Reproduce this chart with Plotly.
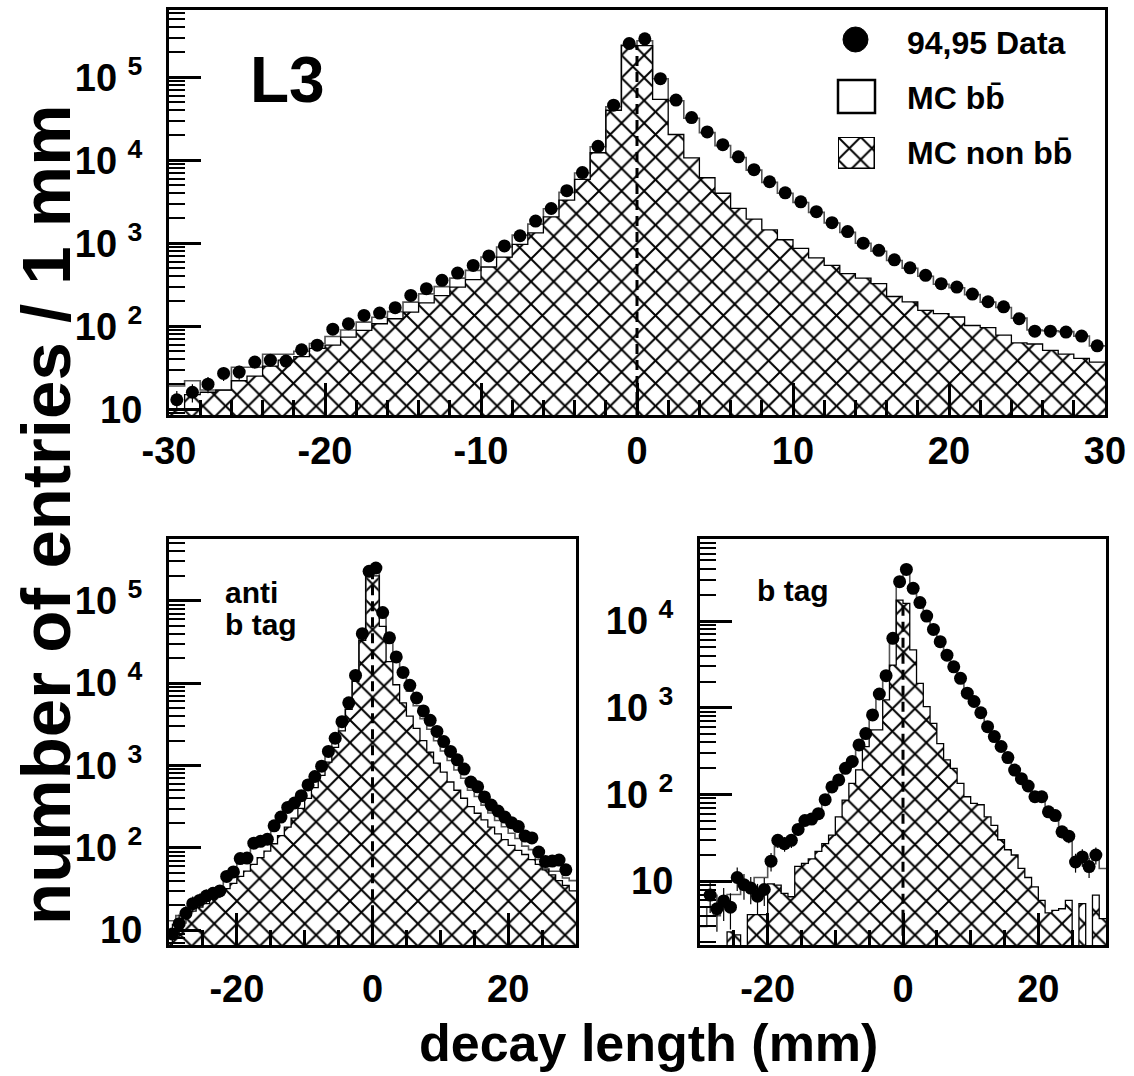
import math
import numpy as np
import plotly.graph_objects as go

W, H = 1134, 1076

# ---------------- data (1 mm bins from -30 to 30) ----------------
bin_edges = list(range(-30, 31))
bin_centers = [e + 0.5 for e in range(-30, 30)]

# top panel: all events
all_data = [13, 16, 20, 27, 28, 37, 39, 38, 52, 59, 92, 107, 135, 144, 167, 235, 283, 357, 437, 540,
            703, 927, 1230, 1850, 2620, 4290, 7100, 14700, 46000, 255000,
            290000, 96000, 53000, 32600, 21900, 15400, 11000, 7700, 5500, 4050, 3150, 2400, 1770, 1380,
            1000, 820, 630, 505, 410, 325, 296, 244, 197, 171, 123, 87, 87, 85, 76, 58]
all_mc_total = [19, 22, 17, 17, 32, 32, 46, 46, 50, 62, 75, 90, 112, 128, 150, 195, 245, 300, 380, 470,
                680, 900, 1250, 1700, 2600, 4100, 7000, 14500, 44000, 245000,
                275000, 96000, 52000, 32000, 21500, 15000, 10800, 7600, 5400, 4000, 3100, 2350, 1750, 1350,
                1000, 800, 620, 500, 400, 320, 290, 240, 195, 168, 125, 90, 88, 86, 76, 58]
all_mc_nonbb = [10, 15, 16, 17, 22, 25, 33, 39, 43, 54, 59, 74, 89, 107, 123, 148, 191, 234, 295, 364,
                517, 680, 970, 1330, 2080, 3300, 5870, 12300, 40000, 240000,
                240000, 54000, 20400, 10700, 6150, 4000, 2630, 1950, 1450, 1100, 865, 665, 540, 430,
                380, 325, 228, 196, 155, 142, 129, 102, 96, 78, 63, 61, 51, 46, 41, 37]

# bottom left: anti b tag
anti_data = [9, 12, 16, 21, 23, 26, 28, 30, 45, 51, 74, 75, 114, 120, 127, 185, 236, 309, 350, 430,
             580, 735, 980, 1480, 2140, 3400, 5770, 12400, 39800, 228000,
             250000, 72000, 35500, 20800, 13500, 9400, 6600, 4600, 3530, 2590, 1950, 1480, 1170, 905,
             630, 550, 415, 330, 280, 236, 202, 181, 139, 132, 89, 68, 69, 71, 54, None]
anti_mc_total = [13, 15, 17, 21, 24, 27, 29, 32, 42, 50, 68, 78, 105, 118, 130, 175, 225, 290, 345, 420,
                 560, 720, 960, 1450, 2100, 3300, 5600, 12000, 38000, 225000,
                 240000, 62000, 33000, 19500, 12000, 8000, 5300, 3700, 2750, 2000, 1500, 1150, 880, 700,
                 500, 420, 330, 265, 215, 180, 150, 130, 105, 95, 72, 56, 52, 52, 43, 40]
anti_mc_nonbb = [10, 13, 15, 17, 19, 21, 24, 27, 32, 37, 45, 52, 63, 76, 91, 112, 141, 178, 229, 302,
                 398, 537, 759, 1100, 1660, 2630, 4790, 10500, 33100, 214000,
                 200000, 49000, 18200, 9550, 5750, 3980, 2820, 2000, 1450, 1070, 830, 630, 500, 400,
                 316, 263, 219, 178, 148, 126, 107, 93, 83, 72, 63, 54, 47, 40, 35, 30]

# bottom right: b tag
btag_data = [None, 6.9, 4.8, 5.9, 5.0, 11, 9.1, 8.3, 6.7, 8.0, 17, 29.5, 27, 29.5, 39.5, 50, 52, 60, 87, 122,
             147, 200, 240, 372, 503, 825, 1440, 2340, 6310, 28400,
             39400, 23800, 16300, 11400, 8000, 5770, 4040, 2960, 2180, 1470, 1180, 875, 605, 465,
             357, 266, 191, 152, 125, 94, 94, 63, 57, 37, 33, 16.6, 19, 14.7, 20, None]
btag_mc_total = [3, 5, 4, 6, 7, 7, 9, 9, 11, 11, 18, 25, 28, 30, 38, 46, 52, 62, 85, 118,
                 145, 195, 250, 360, 520, 800, 1400, 2400, 6500, 27000,
                 38000, 24000, 16000, 11000, 7800, 5600, 4000, 2900, 2100, 1450, 1150, 860, 600, 460,
                 350, 260, 190, 150, 120, 92, 90, 64, 55, 40, 33, 18, 18, 16, 20, 14]
btag_mc_nonbb = [0, 0, 0, 0, 2.6, 2.4, 0, 4.1, 4.1, 4.1, 9.3, 9, 7.2, 6.6, 14.8, 16, 18, 22, 27, 34,
                 55, 86, 134, 192, 355, 555, 555, 1230, 3100, 17400,
                 16000, 4650, 1910, 1030, 660, 385, 250, 200, 134, 94, 79, 76, 55, 44,
                 30, 23, 20, 14, 11, 8.6, 6, 4.3, 4.6, 4.8, 6, 0, 5.5, 0, 6.9, 3.7]

y_tick_values = [10, 100, 1000, 10000, 100000]
y_tick_labels = ["10", "10 <sup>2</sup>", "10 <sup>3</sup>", "10 <sup>4</sup>", "10 <sup>5</sup>"]

legend_labels = ["94,95 Data", "MC bb\u0304", "MC non bb\u0304"]

# ---------------- layout helpers ----------------
FONT = "Liberation Sans, Arial, Helvetica, sans-serif"


def fx(px):
    return px / W


def fy(py):
    return 1 - py / H


panels = [
    dict(name="", xdom=(169, 1105), ydom=(10, 415), yrange=(0.93, 5.81),
         xticks=list(range(-30, 31, 10)), xminor=2, xstand=0,
         data=all_data, total=all_mc_total, nonbb=all_mc_nonbb),
    dict(name="2", xdom=(169, 576), ydom=(539, 945), yrange=(0.82, 5.75),
         xticks=[-20, 0, 20], xminor=5, xstand=8,
         data=anti_data, total=anti_mc_total, nonbb=anti_mc_nonbb),
    dict(name="3", xdom=(700, 1106), ydom=(539, 945), yrange=(0.263, 4.946),
         xticks=[-20, 0, 20], xminor=5, xstand=8,
         data=btag_data, total=btag_mc_total, nonbb=btag_mc_nonbb),
]

minor_log = [m * 10 ** e for e in range(0, 7) for m in range(2, 10)]

fig = go.Figure()
layout = dict(width=W, height=H, margin=dict(l=0, r=0, t=0, b=0, autoexpand=False),
              paper_bgcolor="white", plot_bgcolor="white",
              showlegend=False, bargap=0, barmode="overlay")

hatch = dict(shape="x", fgcolor="black", bgcolor="white", size=16, solidity=0.23, fgopacity=1)

for p in panels:
    xa = "x" + p["name"]
    ya = "y" + p["name"]
    floor = 10 ** (p["yrange"][0] - 1)

    # hatched non-bb histogram
    nb = [v if (v is not None and v > 0) else None for v in p["nonbb"]]
    fig.add_trace(go.Bar(x=bin_centers, y=nb, width=1.0, xaxis=xa, yaxis=ya,
                         marker=dict(color="white", line=dict(width=0), pattern=hatch),
                         hoverinfo="skip"))
    # total MC outline (grey)
    tot = [v if (v is not None and v > 0) else floor for v in p["total"]]
    fig.add_trace(go.Scatter(x=bin_edges, y=tot + [tot[-1]], mode="lines", line_shape="hv",
                             line=dict(color="#555555", width=1.6), xaxis=xa, yaxis=ya,
                             hoverinfo="skip"))
    # non-bb outline
    nbl = [v if (v is not None and v > 0) else floor for v in p["nonbb"]]
    fig.add_trace(go.Scatter(x=bin_edges, y=nbl + [nbl[-1]], mode="lines", line_shape="hv",
                             line=dict(color="black", width=1.3), xaxis=xa, yaxis=ya,
                             hoverinfo="skip"))
    # dashed line at zero up to the non-bb peak
    i0 = bin_centers.index(0.5)
    peak = min(p["nonbb"][i0 - 1], p["nonbb"][i0])
    fig.add_trace(go.Scatter(x=[0, 0], y=[floor, peak], mode="lines",
                             line=dict(color="black", width=3, dash="10px,6px"),
                             xaxis=xa, yaxis=ya, hoverinfo="skip"))
    # data points
    errs = [math.sqrt(v) if v is not None else None for v in p["data"]]
    fig.add_trace(go.Scatter(x=bin_centers, y=p["data"], mode="markers",
                             marker=dict(color="black", size=13, symbol="circle"),
                             error_y=dict(type="data", array=errs, color="black", thickness=1.2, width=0),
                             xaxis=xa, yaxis=ya, hoverinfo="skip"))

    x0, x1 = p["xdom"]
    y0, y1 = p["ydom"]
    xminor_vals = [v for v in range(-30, 31, p["xminor"]) if v not in p["xticks"]]
    xkey = "xaxis" + p["name"]
    ykey = "yaxis" + p["name"]
    layout[xkey] = dict(domain=[fx(x0), fx(x1)], range=[-30, 30], anchor=ya, automargin=False,
                        tickmode="array", tickvals=p["xticks"],
                        ticktext=[str(v) for v in p["xticks"]],
                        ticks="inside", ticklen=32, tickwidth=2.5, tickcolor="black",
                        minor=dict(tickmode="array", tickvals=xminor_vals, ticks="inside",
                                   ticklen=15, tickwidth=2.5, tickcolor="black", showgrid=False),
                        showline=True, mirror=True, linecolor="black", linewidth=3,
                        showgrid=False, zeroline=False,
                        tickfont=dict(family=FONT, size=38, color="black", weight=700),
                        ticklabelstandoff=p["xstand"])
    ytv = [v for v in y_tick_values if math.log10(v) <= p["yrange"][1]]
    ytt = y_tick_labels[:len(ytv)]
    layout[ykey] = dict(domain=[fy(y1), fy(y0)], type="log", range=list(p["yrange"]), anchor=xa,
                        automargin=False,
                        tickmode="array", tickvals=ytv, ticktext=ytt,
                        ticks="inside", ticklen=32, tickwidth=2.5, tickcolor="black",
                        minor=dict(tickmode="array", tickvals=minor_log, ticks="inside",
                                   ticklen=16, tickwidth=2, tickcolor="black", showgrid=False),
                        showline=True, mirror=True, linecolor="black", linewidth=3,
                        showgrid=False, zeroline=False,
                        tickfont=dict(family=FONT, size=38, color="black", weight=700),
                        ticklabelstandoff=16)

# legend glyph: hatched box on its own small axis
fig.add_trace(go.Bar(x=[0.5], y=[1], width=1.0, xaxis="x4", yaxis="y4",
                     marker=dict(color="white", line=dict(color="black", width=2.5), pattern=hatch),
                     hoverinfo="skip"))
layout["xaxis4"] = dict(domain=[fx(838), fx(875)], range=[0, 1], visible=False, anchor="y4",
                        automargin=False)
layout["yaxis4"] = dict(domain=[fy(169), fy(137)], range=[0, 1], visible=False, anchor="x4",
                        automargin=False)

shapes = [
    dict(type="circle", xref="paper", yref="paper", x0=fx(843), x1=fx(868), y0=fy(52), y1=fy(27),
         fillcolor="black", line=dict(color="black", width=1)),
    dict(type="rect", xref="paper", yref="paper", x0=fx(838), x1=fx(875), y0=fy(113), y1=fy(80),
         fillcolor="white", line=dict(color="black", width=2.5)),
]

ann_font = dict(family=FONT, color="black", weight=700)
annotations = [
    dict(text=legend_labels[0], x=fx(905), y=fy(43), xref="paper", yref="paper",
         xanchor="left", yanchor="middle", showarrow=False, font=dict(size=32, **ann_font)),
    dict(text=legend_labels[1], x=fx(905), y=fy(98), xref="paper", yref="paper",
         xanchor="left", yanchor="middle", showarrow=False, font=dict(size=32, **ann_font)),
    dict(text=legend_labels[2], x=fx(905), y=fy(153), xref="paper", yref="paper",
         xanchor="left", yanchor="middle", showarrow=False, font=dict(size=32, **ann_font)),
    dict(text="L3", x=fx(248), y=fy(80), xref="paper", yref="paper",
         xanchor="left", yanchor="middle", showarrow=False, font=dict(size=64, **ann_font)),
    dict(text="anti", x=fx(223), y=fy(592), xref="paper", yref="paper",
         xanchor="left", yanchor="middle", showarrow=False, font=dict(size=30, **ann_font)),
    dict(text="b tag", x=fx(223), y=fy(624), xref="paper", yref="paper",
         xanchor="left", yanchor="middle", showarrow=False, font=dict(size=30, **ann_font)),
    dict(text="b tag", x=fx(755), y=fy(590), xref="paper", yref="paper",
         xanchor="left", yanchor="middle", showarrow=False, font=dict(size=30, **ann_font)),
    dict(text="number of entries / 1 mm", x=fx(46), y=fy(515), xref="paper", yref="paper",
         xanchor="center", yanchor="middle", textangle=-90, showarrow=False,
         font=dict(size=69, **ann_font)),
    dict(text="decay length (mm)", x=fx(648), y=fy(1043), xref="paper", yref="paper",
         xanchor="center", yanchor="middle", showarrow=False, font=dict(size=52, **ann_font)),
]

layout["shapes"] = shapes
layout["annotations"] = annotations
fig.update_layout(**layout)

fig.write_html("out.html")
